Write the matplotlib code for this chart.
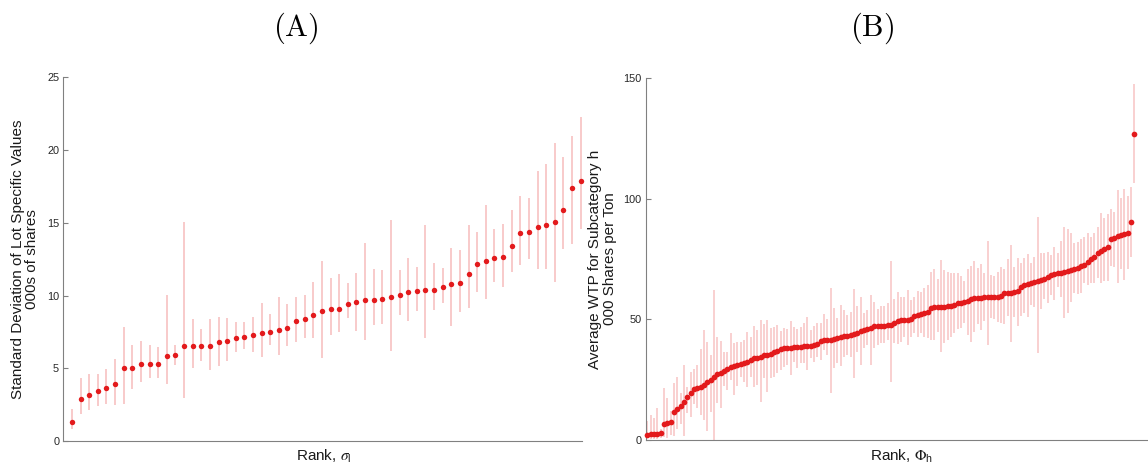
import numpy as np
import matplotlib
matplotlib.use("Agg")
import matplotlib.pyplot as plt

plt.rcParams['font.family'] = ['Liberation Sans', 'DejaVu Sans']
plt.rcParams['mathtext.fontset'] = 'stix'

# ---------------- Panel A: lot-specific standard deviations ----------------
sigma_mean = [1.28, 2.86, 3.16, 3.44, 3.62, 3.90, 5.00, 5.04, 5.29, 5.32,
              5.32, 5.87, 5.89, 6.55, 6.55, 6.55, 6.55, 6.78, 6.87, 7.10,
              7.15, 7.29, 7.45, 7.49, 7.65, 7.77, 8.23, 8.39, 8.64, 8.94,
              9.07, 9.07, 9.44, 9.58, 9.69, 9.72, 9.74, 9.90, 10.01, 10.27,
              10.29, 10.36, 10.38, 10.59, 10.79, 10.88, 11.50, 12.19, 12.37, 12.60,
              12.65, 13.38, 14.30, 14.39, 14.69, 14.83, 15.03, 15.88, 17.37, 17.87]
sigma_low = [0.80, 1.86, 2.13, 2.43, 2.52, 2.47, 2.57, 3.57, 4.08, 4.35,
             4.35, 3.90, 5.25, 2.98, 5.04, 5.50, 4.88, 5.16, 5.50, 6.12,
             6.30, 6.14, 5.80, 6.60, 5.94, 6.55, 6.78, 7.10, 7.10, 5.68,
             7.29, 7.52, 8.43, 7.58, 6.94, 7.97, 8.04, 6.21, 8.66, 8.25,
             8.94, 7.10, 9.01, 9.46, 7.93, 8.89, 9.17, 10.22, 9.76, 10.91,
             10.61, 11.62, 12.12, 12.49, 11.82, 11.80, 10.91, 13.20, 13.57, 14.60]
sigma_high = [2.18, 4.31, 4.58, 4.61, 4.97, 5.64, 7.84, 6.60, 6.87, 6.60,
              6.48, 10.01, 6.60, 15.03, 8.41, 7.70, 8.39, 8.55, 8.46, 8.18,
              8.16, 8.50, 9.46, 8.71, 9.88, 9.40, 9.88, 10.04, 10.95, 12.37,
              11.18, 11.48, 10.86, 11.53, 13.61, 11.80, 11.78, 15.17, 11.73, 12.58,
              11.98, 14.83, 12.24, 11.89, 13.24, 13.13, 14.85, 14.37, 16.20, 14.60,
              14.92, 15.88, 16.84, 16.68, 18.58, 19.07, 20.46, 19.50, 20.94, 22.25]

# ---------------- Panel B: average WTP by subcategory ----------------
wtp_mean = [2.2, 2.3, 2.4, 2.5, 2.8, 6.5, 6.9, 7.4, 11.6, 12.7,
            14.2, 15.8, 17.7, 19.4, 21.0, 21.4, 22.0, 22.9, 23.9, 24.9,
            26.3, 27.2, 27.9, 28.7, 29.3, 30.1, 30.8, 31.1, 31.4, 31.9,
            32.4, 33.2, 33.9, 34.1, 34.3, 35.1, 35.4, 35.7, 36.5, 37.0,
            37.9, 38.0, 38.0, 38.2, 38.4, 38.6, 38.7, 38.9, 38.9, 39.0,
            39.3, 39.8, 40.9, 41.3, 41.5, 41.5, 41.8, 42.2, 42.8, 43.0,
            43.3, 43.7, 44.0, 44.2, 45.2, 45.6, 46.2, 46.6, 47.3, 47.4,
            47.4, 47.4, 47.6, 47.8, 48.4, 49.4, 49.6, 49.8, 49.9, 50.3,
            51.4, 52.0, 52.3, 52.7, 53.2, 54.6, 55.3, 55.3, 55.2, 55.3,
            55.5, 55.7, 56.0, 56.7, 56.9, 57.2, 57.7, 58.5, 59.0, 59.0,
            59.0, 59.2, 59.2, 59.3, 59.5, 59.5, 59.9, 60.8, 61.1, 61.1,
            61.4, 61.8, 63.6, 64.3, 64.7, 65.1, 65.7, 65.9, 66.4, 66.9,
            67.7, 68.3, 68.9, 69.4, 69.4, 69.5, 70.2, 70.5, 70.8, 71.3,
            72.2, 72.6, 74.0, 75.1, 75.8, 77.4, 78.5, 79.2, 80.2, 83.4,
            83.7, 84.4, 84.9, 85.3, 85.7, 90.3, 126.8]
wtp_low = [0.7, 0.5, 0.5, 0.3, 1.0, 1.4, 0.7, 2.0, 1.7, 4.4,
           6.7, 1.7, 11.1, 9.7, 14.9, 13.1, 10.4, 8.3, 3.9, 11.8,
           0.0, 15.2, 13.1, 22.4, 20.7, 24.9, 18.7, 22.4, 26.3, 24.2,
           22.1, 26.3, 22.1, 22.8, 15.9, 25.6, 20.0, 25.6, 26.3, 27.9,
           29.0, 30.4, 31.1, 27.0, 32.5, 29.7, 32.1, 31.8, 29.0, 33.9,
           32.5, 34.6, 33.2, 37.3, 35.3, 19.4, 29.7, 32.1, 30.7, 34.6,
           35.3, 34.6, 25.6, 36.6, 31.1, 38.0, 39.4, 31.1, 38.0, 39.4,
           40.1, 40.4, 41.5, 24.2, 40.1, 39.8, 40.8, 42.9, 39.4, 42.9,
           44.2, 42.9, 44.2, 42.9, 42.2, 41.5, 41.5, 44.9, 36.6, 40.1,
           41.5, 42.9, 44.5, 45.9, 46.3, 48.4, 43.5, 40.8, 44.9, 48.1,
           45.6, 49.5, 39.4, 50.5, 50.1, 49.1, 48.7, 48.1, 51.4, 40.8,
           51.2, 47.3, 51.4, 52.5, 50.9, 56.0, 55.3, 36.0, 54.2, 58.3,
           56.7, 60.1, 58.1, 63.6, 59.4, 50.5, 52.8, 57.4, 60.8, 60.6,
           61.1, 65.0, 64.3, 65.2, 65.2, 67.1, 65.0, 66.1, 66.1, 72.2,
           71.9, 65.2, 70.8, 66.4, 70.8, 75.8, 106.7]
wtp_high = [8.0, 10.4, 9.0, 13.4, 4.5, 21.7, 17.3, 12.0, 23.5, 26.0,
            19.4, 31.1, 22.0, 28.3, 29.3, 31.1, 37.8, 45.6, 40.8, 35.2,
            62.2, 42.6, 41.0, 36.6, 36.6, 44.2, 40.1, 40.8, 40.8, 41.5,
            44.9, 42.9, 47.3, 45.6, 49.8, 48.1, 49.8, 46.6, 46.7, 47.7,
            45.3, 46.6, 46.2, 49.4, 47.0, 45.9, 47.0, 48.7, 51.2, 45.6,
            47.4, 48.4, 48.7, 52.3, 50.1, 62.9, 54.6, 50.5, 56.0, 53.9,
            51.8, 52.9, 62.5, 55.6, 59.4, 52.8, 53.9, 60.0, 57.4, 54.2,
            55.6, 55.6, 57.0, 74.4, 58.3, 61.4, 59.4, 59.4, 62.2, 58.1,
            59.2, 61.8, 61.5, 62.9, 64.3, 69.8, 70.8, 66.6, 74.7, 70.5,
            69.8, 69.1, 69.4, 69.4, 68.0, 65.9, 70.9, 72.2, 74.4, 71.2,
            72.9, 69.4, 82.5, 68.4, 68.0, 69.8, 71.6, 70.8, 74.9, 80.9,
            71.9, 75.3, 73.6, 75.3, 77.1, 73.3, 76.0, 92.6, 77.7, 77.7,
            78.1, 76.7, 79.9, 77.7, 82.7, 88.2, 87.4, 85.7, 81.6, 82.3,
            83.2, 84.3, 85.7, 84.3, 85.7, 88.5, 94.3, 91.9, 93.7, 95.7,
            94.7, 103.7, 100.2, 104.0, 101.2, 105.1, 147.7]

DOT = '#e31a1c'
BAR = '#f8c6c6'
SPINE = '#808080'
TICKTXT = '#262626'

W, H = 1148, 466
fig = plt.figure(figsize=(W / 100, H / 100), dpi=100)


def style_axes(ax, yticks):
    for side in ('top', 'right'):
        ax.spines[side].set_visible(False)
    for side in ('left', 'bottom'):
        ax.spines[side].set_color(SPINE)
        ax.spines[side].set_linewidth(0.8)
    ax.set_xticks([])
    ax.set_yticks(yticks)
    ax.tick_params(axis='y', direction='in', length=3.5, width=0.8,
                   colors=SPINE, labelcolor=TICKTXT, labelsize=7.8, pad=3)


def draw_panel(ax, mean, low, high, lw, ms):
    x = np.arange(1, len(mean) + 1)
    ax.vlines(x, low, high, colors=BAR, linewidth=lw, zorder=1)
    ax.plot(x, mean, 'o', color=DOT, markersize=ms, markeredgewidth=0,
            zorder=3, clip_on=False)


# Panel A
axA = fig.add_axes([63.3 / W, 1 - 441 / H, (581.5 - 63.3) / W, (441 - 77.3) / H])
draw_panel(axA, sigma_mean, sigma_low, sigma_high, 1.3, 3.9)
axA.set_xlim(0, 60.1)
axA.set_ylim(0, 25)
style_axes(axA, [0, 5, 10, 15, 20, 25])

# Panel B
axB = fig.add_axes([645.7 / W, 1 - 440 / H, (1158 - 645.7) / W, (440 - 78.3) / H])
draw_panel(axB, wtp_mean, wtp_low, wtp_high, 1.15, 4.1)
axB.set_xlim(0.5, 154.1)
axB.set_ylim(0, 150)
style_axes(axB, [0, 50, 100, 150])

# Panel titles
fig.text(296 / W, 1 - 28 / H, r'$\mathrm{(A)}$', ha='center', va='center',
         fontsize=22, math_fontfamily='cm')
fig.text(872 / W, 1 - 28 / H, r'$\mathrm{(B)}$', ha='center', va='center',
         fontsize=22, math_fontfamily='cm')

# Axis labels
fig.text(25 / W, 1 - 259 / H,
         'Standard Deviation of Lot Specific Values\n000s of shares',
         rotation=90, ha='center', va='center', fontsize=11,
         linespacing=1.05, color='#1a1a1a')
fig.text(602.5 / W, 1 - 259 / H,
         'Average WTP for Subcategory h\n000 Shares per Ton',
         rotation=90, ha='center', va='center', fontsize=11,
         linespacing=1.05, color='#1a1a1a')
fig.text(324 / W, 1 - 460.5 / H, r'Rank, $\sigma_{\mathregular{l}}$',
         ha='center', va='baseline', fontsize=11, color='#1a1a1a')
fig.text(902 / W, 1 - 460.5 / H, r'Rank, $\Phi_{\mathregular{h}}$',
         ha='center', va='baseline', fontsize=11, color='#1a1a1a')

fig.savefig('out.png', dpi=100)
